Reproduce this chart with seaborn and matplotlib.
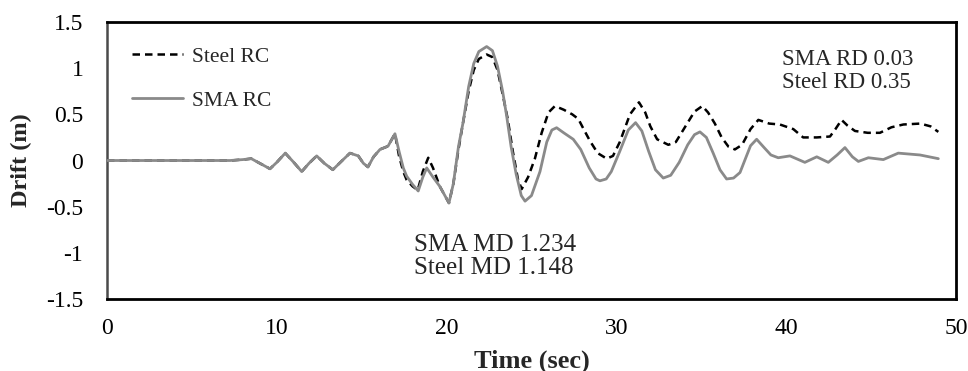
import numpy as np
import pandas as pd
import matplotlib
matplotlib.use("Agg")
import matplotlib.pyplot as plt
import seaborn as sns

# ── Data ─────────────────────────────────────────────────────────────────────
steel_t = [0, 5.5, 7.24, 8.0, 8.5, 9.0, 9.6, 10.0, 10.5, 11.0, 11.47, 11.9, 12.35,
           12.8, 13.3, 13.8, 14.31, 14.8, 15.1, 15.37, 15.7, 16.08, 16.55, 16.96,
           17.2, 17.45, 17.65, 18.0, 18.3, 18.6, 18.92, 19.2, 19.6, 19.9, 20.14,
           20.4, 20.7, 20.97, 21.3, 21.6, 21.9, 22.36, 22.7, 23.0, 23.3, 23.6, 23.9,
           24.2, 24.42, 24.8, 25.2, 25.6, 26.0, 26.38, 26.9, 27.4, 27.76, 28.1,
           28.45, 28.9, 29.43, 29.8, 30.2, 30.8, 31.33, 31.7, 32.0, 32.4, 33.06,
           33.5, 34.0, 34.6, 35.06, 35.4, 35.8, 36.2, 36.6, 36.98, 37.4, 37.9,
           38.36, 39.0, 39.63, 40.42, 41.0, 41.8, 42.58, 42.9, 43.26, 43.6, 44.05,
           44.8, 45.52, 46.2, 46.9, 47.9, 48.5, 48.96]
steel_drift = [0, 0, 0, 0.01, 0.02, -0.03, -0.09, -0.02, 0.08, -0.02, -0.12, -0.03, 0.05,
               -0.03, -0.10, -0.01, 0.08, 0.05, -0.03, -0.07, 0.04, 0.12, 0.155, 0.29,
               0.05, -0.12, -0.21, -0.28, -0.32, -0.12, 0.03, -0.08, -0.28, -0.38, -0.46,
               -0.25, 0.12, 0.41, 0.75, 0.98, 1.10, 1.148, 1.12, 0.98, 0.72, 0.45, 0.10,
               -0.20, -0.31, -0.18, 0.02, 0.30, 0.52, 0.59, 0.55, 0.50, 0.45, 0.33,
               0.21, 0.08, 0.02, 0.05, 0.20, 0.50, 0.63, 0.52, 0.37, 0.23, 0.17,
               0.20, 0.35, 0.53, 0.59, 0.52, 0.40, 0.25, 0.15, 0.12, 0.17, 0.34,
               0.44, 0.40, 0.39, 0.34, 0.25, 0.25, 0.26, 0.34, 0.44, 0.38, 0.32,
               0.30, 0.30, 0.36, 0.39, 0.40, 0.37, 0.31]

sma_t = [0, 7.24, 8.0, 8.5, 9.0, 9.6, 10.0, 10.5, 11.0, 11.47, 11.9, 12.35, 12.8,
         13.3, 13.8, 14.31, 14.8, 15.1, 15.37, 15.7, 16.08, 16.55, 16.96, 17.2,
         17.45, 17.65, 18.0, 18.33, 18.6, 18.83, 19.2, 19.6, 19.9, 20.14, 20.4,
         20.7, 20.97, 21.3, 21.6, 21.9, 22.36, 22.7, 23.0, 23.3, 23.54, 23.8, 24.1,
         24.4, 24.62, 25.0, 25.5, 25.9, 26.2, 26.48, 26.9, 27.46, 27.9, 28.4, 28.8,
         29.03, 29.4, 29.7, 30.2, 30.7, 31.13, 31.5, 31.9, 32.3, 32.76, 33.2, 33.7,
         34.2, 34.6, 34.92, 35.3, 35.7, 36.1, 36.49, 36.9, 37.28, 37.6, 37.9, 38.26,
         38.7, 39.1, 39.53, 40.22, 41.1, 41.8, 42.48, 43.0, 43.46, 43.9, 44.25,
         44.84, 45.72, 46.6, 47.88, 48.96]
sma_drift = [0, 0, 0.01, 0.02, -0.03, -0.09, -0.02, 0.08, -0.02, -0.12, -0.03, 0.05,
             -0.03, -0.10, -0.01, 0.08, 0.05, -0.03, -0.07, 0.04, 0.12, 0.155, 0.29, 0.10,
             -0.08, -0.17, -0.26, -0.33, -0.18, -0.08, -0.18, -0.28, -0.38, -0.46, -0.25,
             0.15, 0.41, 0.80, 1.05, 1.18, 1.234, 1.19, 1.02, 0.75, 0.48, 0.15, -0.15,
             -0.38, -0.44, -0.38, -0.12, 0.20, 0.33, 0.355, 0.30, 0.23, 0.12, -0.08, -0.20,
             -0.22, -0.20, -0.12, 0.10, 0.33, 0.41, 0.32, 0.10, -0.10, -0.19, -0.16, -0.02,
             0.17, 0.28, 0.31, 0.25, 0.08, -0.10, -0.20, -0.19, -0.13, 0.02, 0.16, 0.23,
             0.14, 0.06, 0.03, 0.05, -0.02, 0.04, -0.02, 0.06, 0.14, 0.04, -0.01,
             0.03, 0.01, 0.08, 0.06, 0.02]

x_ticks = [0, 10, 20, 30, 40, 50]
y_ticks = [-1.5, -1, -0.5, 0, 0.5, 1, 1.5]
y_tick_labels = ["-1.5", "-1", "-0.5", "0", "0.5", "1", "1.5"]

md_text = "SMA MD 1.234\nSteel MD 1.148"
rd_text = "SMA RD 0.03\nSteel RD 0.35"

steel_df = pd.DataFrame({"Time": steel_t, "Drift": steel_drift})
sma_df = pd.DataFrame({"Time": sma_t, "Drift": sma_drift})

# ── Plot ─────────────────────────────────────────────────────────────────────
sns.set_theme(style="white")
plt.rcParams["font.family"] = ["Liberation Serif", "DejaVu Serif"]

fig, ax = plt.subplots(figsize=(9.68, 3.71), dpi=100)
fig.subplots_adjust(left=0.1105, right=0.9876, top=0.9407, bottom=0.194)

sns.lineplot(data=sma_df, x="Time", y="Drift", ax=ax, color="#8a8a8a",
             linewidth=2.0, label="SMA RC", sort=False)
sns.lineplot(data=steel_df, x="Time", y="Drift", ax=ax, color="black",
             linewidth=1.8, linestyle=(0, (3, 2)), label="Steel RC", sort=False)
ax.lines[0].set_zorder(3)

ax.set_xlim(0, 50)
ax.set_ylim(-1.5, 1.5)
ax.set_xticks(x_ticks)
ax.set_yticks(y_ticks)
ax.set_yticklabels(y_tick_labels)
ax.tick_params(axis="both", length=0, labelsize=17, colors="black")
ax.tick_params(axis="x", pad=14)
ax.tick_params(axis="y", pad=17)

ax.set_xlabel("Time (sec)", fontsize=19, fontweight="bold", labelpad=7)
ax.set_ylabel("Drift (m)", fontsize=17.5, fontweight="bold", labelpad=10)

for side in ["top", "right", "bottom"]:
    ax.spines[side].set_color("black")
    ax.spines[side].set_linewidth(2)
ax.spines["left"].set_color("#4a4a4a")
ax.spines["left"].set_linewidth(1.8)

handles, labels = ax.get_legend_handles_labels()
order = [labels.index("Steel RC"), labels.index("SMA RC")]
ax.legend([handles[i] for i in order], [labels[i] for i in order],
          loc="upper left", bbox_to_anchor=(0.029, 0.91), frameon=False,
          borderpad=0, borderaxespad=0, fontsize=15.5, handlelength=2.4,
          handletextpad=0.4, labelspacing=1.1)

ax.text(18.1, -1.04, md_text, fontsize=18, ha="left", va="center", linespacing=1.05)
ax.text(39.75, 0.97, rd_text, fontsize=16.5, ha="left", va="center", linespacing=1.1)

plt.savefig("out.png", dpi=100)
